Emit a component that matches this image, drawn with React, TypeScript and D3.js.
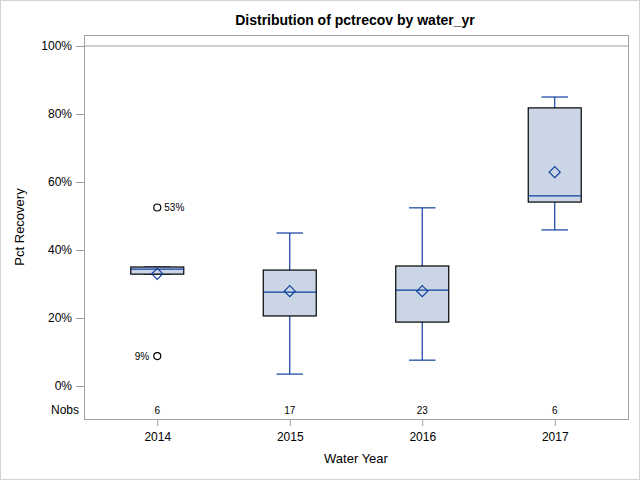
import React, { useEffect, useRef } from 'react';
import * as d3 from 'd3';

const years = ['2014', '2015', '2016', '2017'];
const nobs = [6, 17, 23, 6];
const q1 = [32.9, 20.6, 18.8, 54.1];
const medians = [34.4, 27.6, 28.2, 55.9];
const q3 = [35.0, 34.1, 35.3, 81.8];
const whiskerLow = [32.9, 3.5, 7.6, 45.9];
const whiskerHigh = [35.0, 45.0, 52.4, 85.0];
const means = [33.0, 27.9, 27.9, 62.9];
const outlierYears = ['2014', '2014'];
const outlierValues = [52.5, 8.8];
const outlierLabels = ['53%', '9%'];
const yTicks = [0, 20, 40, 60, 80, 100];

const FONT = '"Liberation Sans", Arial, sans-serif';
const BLUE = '#0E3F9E';
const FILL = '#CAD5E5';
const GRAY = '#A0A0A0';

const App: React.FC = () => {
  const svgRef = useRef<SVGSVGElement | null>(null);

  useEffect(() => {
    document.body.style.margin = '0';
    if (!svgRef.current) return;

    const W = 640;
    const H = 480;
    const left = 84, right = 628, top = 35, bottom = 419;

    const svg = d3.select(svgRef.current);
    svg.selectAll('*').remove();
    svg.attr('width', W).attr('height', H).attr('viewBox', `0 0 ${W} ${H}`);

    const x = d3.scalePoint<string>().domain(years).range([left, right]).padding(0.553);
    const y = d3.scaleLinear().domain([0, 100]).range([386, 46]);
    const step = x.step();
    const boxW = step * 0.4;
    const capW = boxW / 2;

    // outer border
    svg.append('rect')
      .attr('x', 0.5).attr('y', 0.5).attr('width', W - 1).attr('height', H - 1)
      .attr('fill', 'white').attr('stroke', '#D4D4D4');

    // title
    svg.append('text')
      .attr('x', 355).attr('y', 25)
      .attr('text-anchor', 'middle')
      .style('font-family', FONT).style('font-size', '14px').style('font-weight', 'bold')
      .text('Distribution of pctrecov by water_yr');

    // reference line at 100%
    svg.append('line')
      .attr('x1', left).attr('x2', right)
      .attr('y1', y(100)).attr('y2', y(100))
      .attr('stroke', GRAY);

    // Y axis
    const yAxis = svg.append('g')
      .attr('transform', `translate(${left},0)`)
      .call(d3.axisLeft(y).tickValues(yTicks).tickSize(8).tickPadding(4).tickFormat((d) => `${d}%`));
    yAxis.select('.domain').remove();
    yAxis.selectAll('line').attr('stroke', GRAY);
    yAxis.selectAll('text').style('font-family', FONT).style('font-size', '12px').attr('fill', '#000');

    // X axis
    const xAxis = svg.append('g')
      .attr('transform', `translate(0,${bottom})`)
      .call(d3.axisBottom(x).tickSize(7).tickPadding(6));
    xAxis.select('.domain').remove();
    xAxis.selectAll('line').attr('stroke', GRAY);
    xAxis.selectAll('text').style('font-family', FONT).style('font-size', '12px').attr('fill', '#000');

    // axis labels
    svg.append('text')
      .attr('x', (x('2014')! + x('2017')!) / 2).attr('y', 463)
      .attr('text-anchor', 'middle')
      .style('font-family', FONT).style('font-size', '13px')
      .text('Water Year');

    svg.append('text')
      .attr('transform', `translate(24,${(top + bottom) / 2}) rotate(-90)`)
      .attr('text-anchor', 'middle')
      .style('font-family', FONT).style('font-size', '13px')
      .text('Pct Recovery');

    const data = years.map((yr, i) => ({
      yr, q1: q1[i], med: medians[i], q3: q3[i], lo: whiskerLow[i], hi: whiskerHigh[i], mean: means[i], n: nobs[i],
    }));

    const boxes = svg.append('g').selectAll('g').data(data).enter().append('g');

    // whiskers
    boxes.append('line')
      .attr('x1', (d) => x(d.yr)!).attr('x2', (d) => x(d.yr)!)
      .attr('y1', (d) => y(d.hi)).attr('y2', (d) => y(d.lo))
      .attr('stroke', BLUE).attr('stroke-width', 1.2);
    boxes.append('line')
      .attr('x1', (d) => x(d.yr)! - capW / 2).attr('x2', (d) => x(d.yr)! + capW / 2)
      .attr('y1', (d) => y(d.hi)).attr('y2', (d) => y(d.hi))
      .attr('stroke', BLUE).attr('stroke-width', 1.2);
    boxes.append('line')
      .attr('x1', (d) => x(d.yr)! - capW / 2).attr('x2', (d) => x(d.yr)! + capW / 2)
      .attr('y1', (d) => y(d.lo)).attr('y2', (d) => y(d.lo))
      .attr('stroke', BLUE).attr('stroke-width', 1.2);

    // box
    boxes.append('rect')
      .attr('x', (d) => x(d.yr)! - boxW / 2)
      .attr('y', (d) => y(d.q3))
      .attr('width', boxW)
      .attr('height', (d) => y(d.q1) - y(d.q3))
      .attr('fill', FILL).attr('stroke', '#000').attr('stroke-width', 1.2);

    // median
    boxes.append('line')
      .attr('x1', (d) => x(d.yr)! - boxW / 2).attr('x2', (d) => x(d.yr)! + boxW / 2)
      .attr('y1', (d) => y(d.med)).attr('y2', (d) => y(d.med))
      .attr('stroke', BLUE).attr('stroke-width', 1.2);

    // mean diamond
    boxes.append('path')
      .attr('transform', (d) => `translate(${x(d.yr)},${y(d.mean)})`)
      .attr('d', 'M0,-5.5L5.5,0L0,5.5L-5.5,0Z')
      .attr('fill', 'none').attr('stroke', BLUE).attr('stroke-width', 1.2);

    // outliers
    outlierValues.forEach((v, i) => {
      const cx = x(outlierYears[i])!;
      const cy = y(v);
      svg.append('circle')
        .attr('cx', cx).attr('cy', cy).attr('r', 3.5)
        .attr('fill', 'none').attr('stroke', '#000').attr('stroke-width', 1.2);
      const rightSide = i === 0;
      svg.append('text')
        .attr('x', rightSide ? cx + 7 : cx - 8).attr('y', cy + 3.5)
        .attr('text-anchor', rightSide ? 'start' : 'end')
        .style('font-family', FONT).style('font-size', '10px')
        .text(outlierLabels[i]);
    });

    // Nobs row
    svg.append('text')
      .attr('x', 79).attr('y', 414)
      .attr('text-anchor', 'end')
      .style('font-family', FONT).style('font-size', '12px')
      .text('Nobs');
    svg.append('g').selectAll('text').data(data).enter().append('text')
      .attr('x', (d) => x(d.yr)!).attr('y', 414)
      .attr('text-anchor', 'middle')
      .style('font-family', FONT).style('font-size', '10px')
      .text((d) => d.n);

    // frame
    svg.append('rect')
      .attr('x', left + 0.5).attr('y', top + 0.5)
      .attr('width', right - left).attr('height', bottom - top)
      .attr('fill', 'none').attr('stroke', GRAY);
  }, []);

  return (
    <div>
      <svg ref={svgRef}></svg>
    </div>
  );
};

export default App;
